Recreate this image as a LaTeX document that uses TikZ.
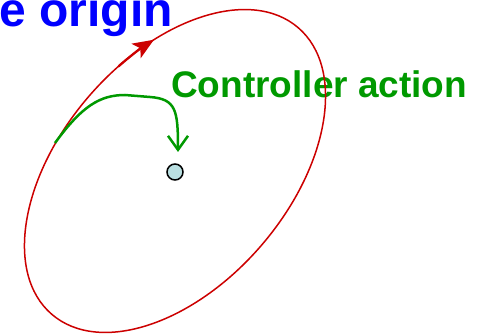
\documentclass[tikz,border=0pt]{standalone}
\usepackage{fontspec}
\setmainfont{Liberation Sans}
\usetikzlibrary{arrows.meta}
\definecolor{myred}{RGB}{204,0,0}
\definecolor{mygreen}{RGB}{0,153,0}
\definecolor{myblue}{RGB}{0,0,255}
\definecolor{dotfill}{RGB}{185,223,225}
\tikzset{
  orbit/.style={draw=myred, line width=1.5pt},
  orbitarrow/.style={draw=myred, line width=2.3pt, -{Stealth[length=21pt,width=17pt,inset=5pt]}},
  ctrl/.style={draw=mygreen, line width=2.5pt, -{Straight Barb[length=14pt,width=20pt]}},
  origindot/.style={circle, draw=black, line width=1.5pt, fill=dotfill, minimum size=16pt, inner sep=0pt},
  bigtext/.style={font=\bfseries\fontsize{48}{50}\selectfont, text=myblue, inner sep=0pt},
  ctrltext/.style={font=\bfseries\fontsize{37}{40}\selectfont, text=mygreen, inner sep=0pt}
}
\begin{document}
\begin{tikzpicture}[x=1pt,y=-1pt]
\useasboundingbox (0,0) rectangle (483,334);
\node[bigtext, anchor=base east] (title) at (173,27) {e origin};
\node[ctrltext, anchor=base west] (ctl) at (171,98) {Controller action};
\node[origindot] (o) at (175,172) {};
\begin{scope}[shift={(175,171)}, rotate=49.3]
  \draw[orbit] (0pt,0pt) ellipse [x radius=189pt, y radius=114pt];
  \coordinate (r0) at (77:189pt and 114pt);
  \draw[orbitarrow] (r0) arc[start angle=77, end angle=63, x radius=189pt, y radius=114pt];
\end{scope}
\coordinate (g0) at (55,143);
\coordinate (g1) at (178,152);
\draw[ctrl] (g0) .. controls (82,106) and (100,95) .. (125,95) -- (150,97) .. controls (176,99) and (178,110) .. (g1);
\end{tikzpicture}
\end{document}
